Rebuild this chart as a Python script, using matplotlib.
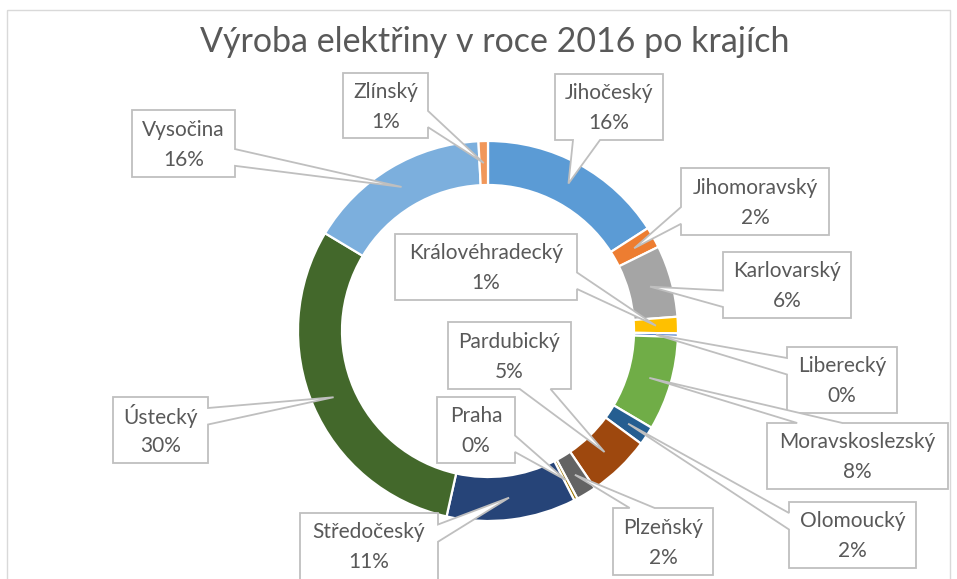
import matplotlib
matplotlib.use("Agg")
import matplotlib.pyplot as plt
from matplotlib.patches import Polygon, Rectangle
import numpy as np

# Data: share of electricity production by region (order as in the source, clockwise from top)
regions = ["Jihočeský", "Jihomoravský", "Karlovarský", "Královéhradecký", "Liberecký",
           "Moravskoslezský", "Olomoucký", "Pardubický", "Plzeňský", "Praha",
           "Středočeský", "Ústecký", "Vysočina", "Zlínský"]
values = [15.9, 1.8, 6.1, 1.4, 0.3, 8.0, 1.6, 5.4, 1.7, 0.3, 11.0, 30.1, 15.6, 0.8]
colors = ["#5B9BD5", "#ED7D31", "#A5A5A5", "#FFC000", "#4472C4", "#70AD47", "#255E91",
          "#9E480E", "#636363", "#997300", "#264478", "#43682B", "#7CAFDD", "#F1975A"]

# callout boxes in pixels (x0, y0, x1, y1), same order as regions
label_boxes = [(555, 74, 663, 140), (681, 168, 829, 235), (723, 252, 851, 318),
               (395, 234, 577, 300), (787, 347, 897, 413), (767, 423, 948, 489),
               (789, 502, 916, 568), (448, 322, 571, 389), (613, 508, 713, 575),
               (437, 397, 515, 463), (300, 513, 438, 582), (113, 397, 208, 463),
               (132, 110, 235, 177), (343, 73, 428, 138)]

TEXT = "#595959"
EDGE = "#BFBFBF"
FONT = "Lato"

W, H = 957, 579
fig = plt.figure(figsize=(W / 100, H / 100), dpi=100)
ax = fig.add_axes([0, 0, 1, 1])

cx, cy, r_out, ring = 488, 331, 190, 44
wedges, _ = ax.pie(values, colors=colors, startangle=-90, counterclock=True,
                   radius=r_out, center=(cx, cy), frame=True,
                   wedgeprops=dict(width=ring, edgecolor="white", linewidth=1.6))
ax.set_xlim(0, W)
ax.set_ylim(H, 0)
ax.set_aspect("equal")
ax.axis("off")

# chart frame
ax.add_patch(Rectangle((7, 10), 943, 590, fill=False, edgecolor="#D9D9D9", linewidth=1))

ax.text(495, 42, "Výroba elektřiny v roce 2016 po krajích", ha="center", va="center",
        fontsize=24.5, color=TEXT, family=FONT)


def callout_points(box, tip):
    # wedge-shaped callout like the office preset shape
    x0, y0, x1, y1 = box
    w, h = x1 - x0, y1 - y0
    dx, dy = tip[0] - (x0 + x1) / 2, tip[1] - (y0 + y1) / 2
    if abs(dy) > abs(dx * h / w):
        a, b = (x0 + w * 7 / 12, x0 + w * 10 / 12) if dx > 0 else (x0 + w * 2 / 12, x0 + w * 5 / 12)
        if dy > 0:
            return [(x0, y0), (x1, y0), (x1, y1), (b, y1), tip, (a, y1), (x0, y1)]
        return [(x0, y0), (a, y0), tip, (b, y0), (x1, y0), (x1, y1), (x0, y1)]
    a, b = (y0 + h * 7 / 12, y0 + h * 10 / 12) if dy > 0 else (y0 + h * 2 / 12, y0 + h * 5 / 12)
    if dx > 0:
        return [(x0, y0), (x1, y0), (x1, a), tip, (x1, b), (x1, y1), (x0, y1)]
    return [(x0, y0), (x1, y0), (x1, y1), (x0, y1), (x0, b), tip, (x0, a)]


total = sum(values)
r_mid = r_out - ring / 2
for wdg, name, val, box in zip(wedges, regions, values, label_boxes):
    ang = np.deg2rad((wdg.theta1 + wdg.theta2) / 2)
    tip = (cx + r_mid * np.cos(ang), cy + r_mid * np.sin(ang))
    ax.add_patch(Polygon(callout_points(box, tip), closed=True, facecolor="white",
                         edgecolor=EDGE, linewidth=1.3, zorder=5))
    bx = (box[0] + box[2]) / 2
    by = (box[1] + min(box[3], box[1] + 67)) / 2
    ax.text(bx, by - 14, name, ha="center", va="center", fontsize=15, color=TEXT,
            family=FONT, zorder=6)
    ax.text(bx, by + 16, f"{round(val / total * 100)}%", ha="center", va="center",
            fontsize=15, color=TEXT, family=FONT, zorder=6)

fig.savefig("out.png", dpi=100, facecolor="white")
